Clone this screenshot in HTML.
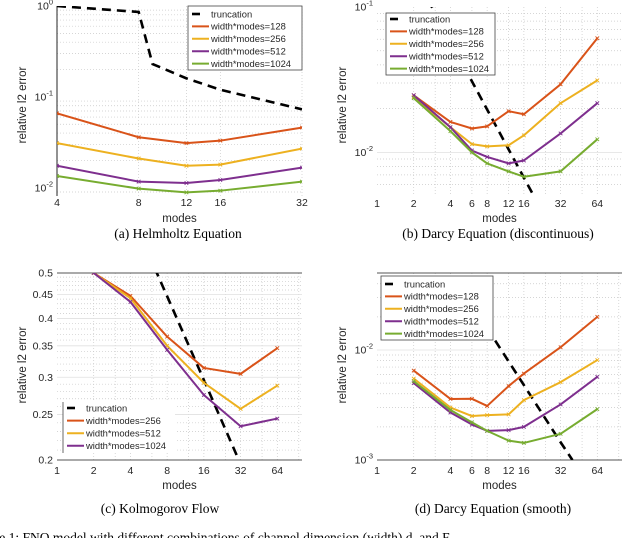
<!DOCTYPE html>
<html><head><meta charset="utf-8">
<style>
html,body{margin:0;padding:0;background:#fff;overflow:hidden}
svg{display:block}
text{font-family:"Liberation Sans",sans-serif;fill:#262626}
.cap{font-family:"Liberation Serif",serif;font-size:13.5px;fill:#000}
</style></head>
<body>
<svg id="fig" width="640" height="538" viewBox="0 0 640 538"></svg>
<script>
// ---------- data ----------
const aModes=[4,8,12,16,32];
const aTruncModes=[4,8,9,12,16,32];
const aTrunc=[1.0,0.86,0.23,0.16,0.12,0.073];
const a128=[0.066,0.036,0.031,0.033,0.046];
const a256=[0.031,0.021,0.0175,0.018,0.027];
const a512=[0.0175,0.0117,0.0113,0.0122,0.0167];
const a1024=[0.0135,0.0098,0.0089,0.0093,0.0117];

const bModes=[2,4,6,8,12,16,32,64];
const bTruncModes=[2,4,8,16,32];
const bTrunc=[0.17,0.058,0.0197,0.0067,0.0023];
const b128=[0.0247,0.0162,0.0146,0.0151,0.0192,0.0183,0.0294,0.061];
const b256=[0.024,0.0149,0.0114,0.011,0.0112,0.0131,0.0218,0.0313];
const b512=[0.0247,0.0149,0.0103,0.0093,0.0084,0.0088,0.0135,0.0218];
const b1024=[0.0236,0.014,0.01,0.0084,0.0074,0.0068,0.0074,0.0123];

const cModes=[2,4,8,16,32,64];
const cTruncModes=[4,8,16,32];
const cTrunc=[0.67,0.446,0.296,0.196];
const c256=[0.5,0.447,0.366,0.314,0.305,0.346];
const c512=[0.5,0.442,0.35,0.292,0.257,0.288];
const c1024=[0.5,0.434,0.343,0.275,0.236,0.245];

const dModes=[2,4,6,8,12,16,32,64];
const dTruncModes=[2,4,8,16,32,40];
const dTrunc=[0.17,0.052,0.0158,0.0048,0.00145,0.001];
const d128=[0.0065,0.00359,0.0036,0.0031,0.0047,0.0061,0.0106,0.02];
const d256=[0.0055,0.003,0.00251,0.00256,0.0026,0.0035,0.0051,0.0081];
const d512=[0.005,0.0027,0.0021,0.00184,0.00187,0.002,0.0032,0.0057];
const d1024=[0.0052,0.00285,0.0022,0.00184,0.0015,0.00143,0.00173,0.0029];

const xTicksA=[4,8,12,16,32];
const xTicksB=[1,2,4,6,8,12,16,32,64];
const xTicksC=[1,2,4,8,16,32,64];
const yTicksC=[0.5,0.45,0.4,0.35,0.3,0.25,0.2];

const COL={o:'#D95319',y:'#EDB120',p:'#7E2F8E',g:'#77AC30'};
const NS='http://www.w3.org/2000/svg';
const svg=document.getElementById('fig');
function mk(tag,attrs,parent,txt){const e=document.createElementNS(NS,tag);for(const k in attrs)e.setAttribute(k,attrs[k]);if(txt!==undefined)e.textContent=txt;(parent||svg).appendChild(e);return e;}

function panel(id,P){
  const g=mk('g',{},svg);
  
  
  const lx=Math.log2(P.xmin), rx=Math.log2(P.xmax);
  const X=m=>P.L+(Math.log2(m)-lx)/(rx-lx)*(P.R-P.L);
  const Y=v=>P.T+(Math.log10(P.ymax)-Math.log10(v))/(Math.log10(P.ymax)-Math.log10(P.ymin))*(P.B-P.T);
  const cid='clip-'+id;
  const cp=mk('clipPath',{id:cid},g);mk('rect',{x:P.L,y:P.T,width:P.R-P.L,height:P.B-P.T},cp);
  P.ygrid.forEach(v=>{const gl=mk('line',{x1:P.L,x2:P.R,y1:Y(v),y2:Y(v),stroke:'#c8c8c8','stroke-width':0.7,'stroke-dasharray':'1,2'},g);
    });
  P.xgrid.forEach(m=>{const gl=mk('line',{x1:X(m),x2:X(m),y1:P.T,y2:P.B,stroke:'#c8c8c8','stroke-width':0.7,'stroke-dasharray':'1,2'},g);
    });
  P.ymajor.forEach(v=>{const gl=mk('line',{x1:P.L,x2:P.R,y1:Y(v),y2:Y(v),stroke:'#e0e0e0','stroke-width':0.8},g);
    });
  (P.axes||[]).forEach(a=>{let l;
    if(a==='left') l=mk('line',{x1:P.L,x2:P.L,y1:P.T,y2:P.B,stroke:'#262626','stroke-width':1},g);
    if(a==='top') l=mk('line',{x1:P.L,x2:P.R,y1:P.T,y2:P.T,stroke:'#555','stroke-width':1},g);
    if(a==='bottom') l=mk('line',{x1:P.L,x2:P.R,y1:P.B,y2:P.B,stroke:'#555','stroke-width':1},g);
    });
  P.xticks.forEach(m=>{const t=mk('text',{x:X(m),y:P.xlabY,'font-size':10.5,'text-anchor':'middle'},g,String(m));
    });
  P.yticks.forEach(tk=>{const t=mk('text',{x:P.L-4,y:Y(tk.v)+3.5,'font-size':10.5,'text-anchor':'end'},g);
    
    if(tk.e!==undefined){t.textContent='10';mk('tspan',{'font-size':7.5,dy:-5},t,tk.e);}
    else t.textContent=tk.l;});
  const xt=mk('text',{x:(P.L+P.R)/2,y:P.xtitleY,'font-size':11.5,'text-anchor':'middle'},g,'modes');
  
  const yt=mk('text',{x:P.ytX,y:P.ytY,'font-size':11.5,'text-anchor':'middle',transform:`rotate(-90 ${P.ytX} ${P.ytY})`},g,'relative l2 error');
  
  const sg=mk('g',{'clip-path':`url(#${cid})`},g);
  const tr=mk('polyline',{points:P.truncX.map((m,i)=>X(m)+','+Y(P.truncV[i])).join(' '),fill:'none',stroke:'#000','stroke-width':2.6,'stroke-dasharray':'9,6'},sg);
  
  P.series.forEach(s=>{
    const pl=mk('polyline',{points:P.modes.map((m,i)=>X(m)+','+Y(s.v[i])).join(' '),fill:'none',stroke:s.c,'stroke-width':2,'stroke-linejoin':'round'},sg);
    
    P.modes.forEach((m,i)=>{const cx=X(m),cy=Y(s.v[i]);
      const mkr=mk('path',{d:`M${cx-1.8},${cy-1.8}L${cx+1.8},${cy+1.8}M${cx-1.8},${cy+1.8}L${cx+1.8},${cy-1.8}`,stroke:s.c,'stroke-width':0.9},sg);
      });
  });
  const lg=mk('g',{},g);
  
  const Lg=P.leg;
  mk('rect',{x:Lg.x,y:Lg.y,width:Lg.w,height:Lg.h,fill:'#fff',stroke:Lg.noBorder?'none':'#444','stroke-width':0.8},lg);
  if(Lg.noBorder) mk('line',{x1:Lg.x,x2:Lg.x,y1:Lg.y,y2:Lg.y+Lg.h,stroke:'#444','stroke-width':0.8},lg);
  const items=[{n:'truncation',c:'#000',d:true}].concat(P.series.map(s=>({n:'width*modes='+s.n,c:s.c})));
  items.forEach((it,i)=>{const yy=Lg.y+Lg.y0+i*Lg.dy;
    const ent=mk('g',{},lg);
    if(it.d) mk('line',{x1:Lg.x+4,x2:Lg.x+12,y1:yy,y2:yy,stroke:'#000','stroke-width':2.6},ent);
    else mk('line',{x1:Lg.x+4,x2:Lg.x+21,y1:yy,y2:yy,stroke:it.c,'stroke-width':2},ent);
    mk('text',{x:Lg.x+23,y:yy+3.3,'font-size':9.4},ent,it.n);});
}

panel('helmholtz',{L:57,R:302,T:6,B:196,xmin:4,xmax:32,ymin:Math.pow(10,-2.09),ymax:1,
  xgrid:[4,8,12,16,32],ygrid:[0.009,0.02,0.03,0.04,0.05,0.06,0.07,0.08,0.09,0.2,0.3,0.4,0.5,0.6,0.7,0.8,0.9],ymajor:[],
  axes:['left'],xticks:xTicksA,yticks:[{v:1,e:'0'},{v:0.1,e:'-1'},{v:0.01,e:'-2'}],
  xlabY:206,xtitleY:222,ytX:26,ytY:105,modes:aModes,truncX:aTruncModes,truncV:aTrunc,
  series:[{n:128,v:a128,c:COL.o},{n:256,v:a256,c:COL.y},{n:512,v:a512,c:COL.p},{n:1024,v:a1024,c:COL.g}],
  leg:{x:188,y:6,w:114,h:64,y0:8,dy:12.4}});

panel('darcy-disc',{L:377,R:622,T:7,B:196,xmin:1,xmax:102,ymin:Math.pow(10,-2.3),ymax:0.1,
  xgrid:[2,3,4,6,8,12,16,24,32,48,64],ygrid:[0.006,0.007,0.008,0.009,0.02,0.03,0.04,0.05,0.06,0.07,0.08,0.09],ymajor:[0.01],
  axes:[],xticks:xTicksB,yticks:[{v:0.1,e:'-1'},{v:0.01,e:'-2'}],
  xlabY:207,xtitleY:222,ytX:346,ytY:105,modes:bModes,truncX:bTruncModes,truncV:bTrunc,
  series:[{n:128,v:b128,c:COL.o},{n:256,v:b256,c:COL.y},{n:512,v:b512,c:COL.p},{n:1024,v:b1024,c:COL.g}],
  leg:{x:386,y:13,w:109,h:62,y0:6,dy:12.4}});

panel('kolmogorov',{L:57,R:302,T:273,B:460,xmin:1,xmax:102,ymin:0.2,ymax:0.5,
  xgrid:[2,3,4,6,8,12,16,24,32,48,64,96],ygrid:[0.21,0.22,0.23,0.24,0.26,0.27,0.28,0.29,0.31,0.32,0.33,0.34,0.36,0.37,0.38,0.39,0.41,0.42,0.43,0.44,0.46,0.47,0.48,0.49],ymajor:[0.25,0.3,0.35,0.4,0.45],
  axes:['top','bottom'],xticks:xTicksC,yticks:yTicksC.map(v=>({v:v,l:String(v)})),
  xlabY:474,xtitleY:489,ytX:26,ytY:365,modes:cModes,truncX:cTruncModes,truncV:cTrunc,
  series:[{n:256,v:c256,c:COL.o},{n:512,v:c512,c:COL.y},{n:1024,v:c1024,c:COL.p}],
  leg:{x:63,y:402,w:112,h:51,y0:6,dy:12.6,noBorder:true}});

panel('darcy-smooth',{L:377,R:622,T:273,B:460,xmin:1,xmax:102,ymin:0.001,ymax:Math.pow(10,-1.3),
  xgrid:[2,3,4,6,8,12,16,24,32,48,64,96],ygrid:[0.002,0.003,0.004,0.005,0.006,0.007,0.008,0.009,0.02,0.03,0.04],ymajor:[0.01],
  axes:['top','bottom'],xticks:xTicksB,yticks:[{v:0.01,e:'-2'},{v:0.001,e:'-3'}],
  xlabY:474,xtitleY:489,ytX:346,ytY:365,modes:dModes,truncX:dTruncModes,truncV:dTrunc,
  series:[{n:128,v:d128,c:COL.o},{n:256,v:d256,c:COL.y},{n:512,v:d512,c:COL.p},{n:1024,v:d1024,c:COL.g}],
  leg:{x:381,y:276,w:112,h:64,y0:8,dy:12.4}});

[['(a) Helmholtz Equation',178,238,'caption-a'],['(b) Darcy Equation (discontinuous)',498,238,'caption-b'],
 ['(c) Kolmogorov Flow',160,513,'caption-c'],['(d) Darcy Equation (smooth)',493,513,'caption-d']].forEach(c=>{
  const t=mk('text',{x:c[1],y:c[2],'text-anchor':'middle',class:'cap'},svg,c[0]);
  
  
});
const fc=mk('text',{x:-30,y:542,class:'cap','font-size':15},svg,'Figure 1: FNO model with different combinations of channel dimension (width) d, and F');


</script>
</body></html>
